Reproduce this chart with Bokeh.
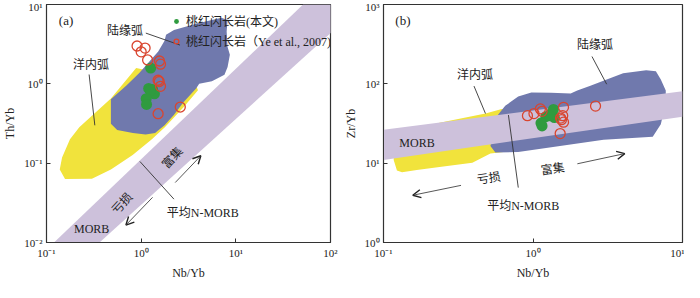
from bokeh.plotting import figure
from bokeh.models import (Range1d, FixedTicker, CustomJSTickFormatter, Label, Arrow,
                          OpenHead, Legend, LegendItem)
from bokeh.layouts import row
from bokeh.embed import file_html
from bokeh.resources import INLINE

FONT = "'Liberation Serif', 'Noto Sans CJK SC', serif"
YELLOW = "#F1E33C"
BLUE = "#7079AD"
LAV = "#CDC1DB"
GREEN = "#2F9B3F"
RED = "#D9452F"
INK = "#333333"

# ---------------- Panel (a): Th/Yb vs Nb/Yb ----------------
a_x_ticks = [0.1, 1, 10, 100]
a_y_ticks = [0.01, 0.1, 1, 10]

a_green_nb = [1.26, 1.20, 1.32, 1.38, 1.25, 1.13, 1.14]
a_green_th = [1.58, 0.875, 0.85, 0.75, 0.82, 0.65, 0.55]

a_red_nb = [0.905, 1.10, 1.00, 1.17, 1.56, 1.60, 1.51, 1.55, 1.60, 1.51, 2.59]
a_red_th = [3.00, 2.82, 2.53, 2.00, 1.94, 1.77, 1.11, 1.07, 0.93, 0.42, 0.51]

a_cont_nb = [0.479, 0.703, 0.955, 1.202, 1.514, 1.766, 1.832, 2.223, 3.802, 7.031, 8.185,
             7.998, 8.185, 8.650, 8.185, 7.586, 5.585, 4.102, 3.802, 2.799, 2.223, 1.766,
             1.403, 1.114, 0.818, 0.558, 0.479]
a_cont_th = [0.640, 0.957, 1.368, 1.866, 2.553, 3.491, 4.169, 4.764, 5.702, 6.808, 6.397,
             4.560, 2.917, 2.333, 1.633, 1.306, 1.074, 1.000, 0.875, 0.585, 0.409, 0.300,
             0.240, 0.229, 0.240, 0.262, 0.313]

a_ocean_nb = [0.885, 1.514, 3.802, 3.981, 2.818, 1.778, 1.297, 0.813, 0.479, 0.302, 0.157,
              0.138, 0.146, 0.177, 0.222, 0.479]
a_ocean_th = [1.578, 1.380, 0.955, 0.830, 0.512, 0.284, 0.200, 0.127, 0.0830, 0.0634, 0.0630,
              0.0830, 0.1175, 0.200, 0.284, 0.652]

a_morb_nb = [0.120, 51.3, 216.0, 0.363]
a_morb_th = [0.01, 10.0, 10.0, 0.01]

# ---------------- Panel (b): Zr/Yb vs Nb/Yb ----------------
b_x_ticks = [0.1, 1, 10]
b_y_ticks = [1, 10, 100, 1000]

b_green_nb = [1.15, 1.22, 1.32, 1.37, 1.39, 1.29, 1.13]
b_green_zr = [29.5, 38.6, 42.2, 47.5, 37.6, 39.7, 32.0]

b_red_nb = [0.918, 1.015, 1.12, 1.15, 1.60, 1.58, 1.55, 1.60, 1.52, 2.62, 1.53]
b_red_zr = [39.7, 42.2, 48.3, 45.0, 50.6, 39.7, 35.3, 32.9, 23.6, 52.4, 37.0]

b_cont_nb = [0.582, 0.652, 0.796, 0.975, 1.318, 1.786, 1.977, 2.421, 3.112, 4.009, 5.715,
             6.637, 7.161, 7.727, 7.727, 7.161, 6.324, 2.965, 0.796, 0.560, 0.519]
b_cont_zr = [40.5, 52.8, 69.2, 77.6, 77.1, 75.7, 82.6, 94.6, 113.2, 135.5, 147.9,
             144.2, 113.2, 82.6, 57.8, 30.9, 21.6, 19.7, 13.8, 13.6, 16.5]

b_ocean_nb = [0.237, 0.481, 0.618, 0.927, 0.927, 0.519, 0.393, 0.237, 0.167, 0.133, 0.123,
              0.117, 0.117, 0.175]
b_ocean_zr = [32.3, 42.2, 48.3, 44.2, 15.1, 13.2, 10.1, 8.97, 8.20, 7.71, 8.07,
              11.0, 19.7, 25.8]

b_morb_nb = [0.1, 10.0, 10.0, 0.1]
b_morb_zr = [26.3, 80.5, 38.6, 11.0]

legend_labels = ["桃红闪长岩(本文)", "桃红闪长岩（Ye et al., 2007)"]

SUP = """
const e = Math.round(Math.log10(tick));
const sup = {'-':'\u207b','0':'\u2070','1':'\u00b9','2':'\u00b2','3':'\u00b3'};
return '10' + String(e).split('').map(c => sup[c]).join('');
"""


def base_fig(width, xr, yr, xt, yt, ylabel, left, right):
    p = figure(width=width, height=282, x_axis_type="log", y_axis_type="log",
               x_range=Range1d(*xr), y_range=Range1d(*yr),
               output_backend="svg", toolbar_location=None,
               min_border_left=left, min_border_right=right,
               min_border_top=4, min_border_bottom=34,
               x_axis_label="Nb/Yb", y_axis_label=ylabel)
    p.grid.visible = False
    p.outline_line_color = INK
    p.outline_line_width = 1.2
    p.xaxis.ticker = FixedTicker(ticks=xt, minor_ticks=[])
    p.yaxis.ticker = FixedTicker(ticks=yt, minor_ticks=[])
    for ax in (p.xaxis[0], p.yaxis[0]):
        ax.formatter = CustomJSTickFormatter(code=SUP)
        ax.major_tick_in = 4
        ax.major_tick_out = 0
        ax.minor_tick_line_color = None
        ax.axis_line_color = INK
        ax.major_tick_line_color = INK
        ax.major_label_text_font = FONT
        ax.major_label_text_font_size = "11px"
        ax.major_label_text_color = "#222222"
        ax.axis_label_text_font = FONT
        ax.axis_label_text_font_style = "normal"
        ax.axis_label_text_font_size = "12px"
        ax.axis_label_text_color = "#222222"
        ax.major_label_standoff = 4
        ax.axis_label_standoff = 4
    return p


def lab(p, x, y, text, size="12px", angle=0.0, align="center"):
    p.add_layout(Label(x=x, y=y, text=text, text_font=FONT, text_font_size=size,
                       text_align=align, text_baseline="middle", angle=angle,
                       text_color="#222222"))


def leader(p, xs, ys):
    p.line(xs, ys, line_color="#333333", line_width=0.9)


def arrow(p, x0, y0, x1, y1):
    p.add_layout(Arrow(end=OpenHead(size=8, line_width=1.4, line_color="#222222"),
                       x_start=x0, y_start=y0, x_end=x1, y_end=y1,
                       line_width=0.9, line_color="#444444"))


# ---- panel a ----
pa = base_fig(340, (0.1, 100), (0.01, 10), a_x_ticks, a_y_ticks, "Th/Yb", 34, 10)
pa.patch(a_ocean_nb, a_ocean_th, fill_color=YELLOW, line_color=None)
pa.patch(a_cont_nb, a_cont_th, fill_color=BLUE, line_color=None)
pa.patch(a_morb_nb, a_morb_th, fill_color=LAV, line_color=None)
ga = pa.scatter(a_green_nb, a_green_th, marker="circle", size=11, fill_color=GREEN, line_color=None)
ra = pa.scatter(a_red_nb, a_red_th, marker="circle", size=10, fill_color=None,
                line_color=RED, line_width=1.3)

lab(pa, 0.135, 6.35, "(a)", size="13px", align="left")
lab(pa, 0.676, 4.6, "陆缘弧")
leader(pa, [1.12, 2.57], [4.36, 3.08])
lab(pa, 0.295, 1.71, "洋内弧")
leader(pa, [0.282, 0.324], [1.31, 0.30])
leader(pa, [0.97, 2.22], [0.105, 0.0352])
lab(pa, 4.47, 0.0236, "平均N-MORB")
lab(pa, 2.14, 0.117, "富集", angle=0.82)
lab(pa, 0.63, 0.031, "亏损", angle=0.82)
lab(pa, 0.30, 0.0149, "MORB")
arrow(pa, 2.29, 0.057, 4.27, 0.124)
arrow(pa, 1.32, 0.0371, 0.69, 0.0166)

leg = Legend(items=[LegendItem(label=legend_labels[0], renderers=[ga]),
                    LegendItem(label=legend_labels[1], renderers=[ra])],
             location=(124, 192), padding=0, margin=0, spacing=2,
             glyph_width=12, glyph_height=14, label_height=14, label_standoff=4,
             label_text_font=FONT, label_text_font_size="12px",
             label_text_color="#222222",
             background_fill_alpha=0, border_line_color=None)
pa.add_layout(leg)

# ---- panel b ----
pb = base_fig(344, (0.1, 10), (1, 1000), b_x_ticks, b_y_ticks, "Zr/Yb", 43, 2)
pb.patch(b_ocean_nb, b_ocean_zr, fill_color=YELLOW, line_color=None)
pb.patch(b_cont_nb, b_cont_zr, fill_color=BLUE, line_color=None)
pb.patch(b_morb_nb, b_morb_zr, fill_color=LAV, line_color=None)
pb.scatter(b_green_nb, b_green_zr, marker="circle", size=11, fill_color=GREEN, line_color=None)
pb.scatter(b_red_nb, b_red_zr, marker="circle", size=10, fill_color=None,
           line_color=RED, line_width=1.3)

lab(pb, 0.12, 631, "(b)", size="13px", align="left")
lab(pb, 2.6, 305, "陆缘弧")
leader(pb, [2.48, 3.11], [221, 98.9])
lab(pb, 0.409, 129, "洋内弧")
leader(pb, [0.403, 0.481], [93.7, 42.2])
lab(pb, 0.1675, 18.2, "MORB")
leader(pb, [0.685, 0.797], [40.4, 4.92])
lab(pb, 0.86, 2.85, "平均N-MORB")
lab(pb, 0.506, 6.44, "亏损", angle=0.14)
lab(pb, 1.355, 8.42, "富集", angle=0.14)
arrow(pb, 0.33, 5.25, 0.157, 3.94)
arrow(pb, 1.98, 9.82, 4.11, 13.2)

layout = row(pa, pb)
open("out.html", "w").write(file_html(layout, INLINE))
